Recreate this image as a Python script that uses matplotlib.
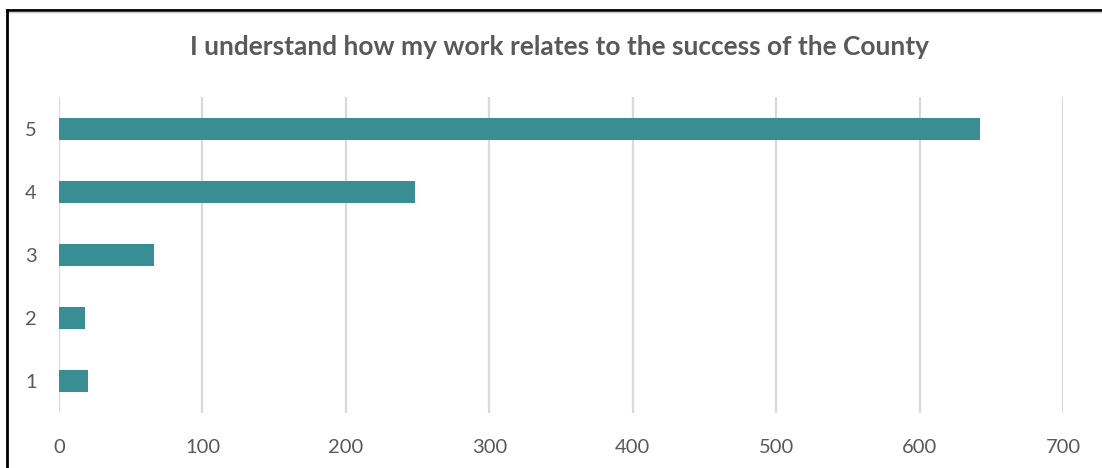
import matplotlib
matplotlib.use("Agg")
import matplotlib.pyplot as plt
from matplotlib.lines import Line2D

categories = ["1", "2", "3", "4", "5"]
counts = [20, 18, 66, 248, 642]
xticks = [0, 100, 200, 300, 400, 500, 600, 700]

title = "I understand how my work relates to the success of the County"
bar_color = "#388E93"
text_color = "#595959"
grid_color = "#D9D9D9"

plt.rcParams["font.family"] = ["Lato", "DejaVu Sans"]

fig = plt.figure(figsize=(11.02, 4.68), dpi=100)
ax = fig.add_axes([59 / 1102, 1 - 413 / 468, (1063.3 - 59) / 1102, (413 - 97) / 468])

ax.barh(categories, counts, height=0.35, color=bar_color, zorder=3)
ax.set_xlim(0, 700)
ax.set_ylim(-0.5, 4.5)
ax.set_xticks(xticks)
ax.xaxis.grid(True, color=grid_color, linewidth=1.6, zorder=0)
for s in ax.spines.values():
    s.set_visible(False)
ax.tick_params(axis="both", length=0, labelsize=14.5, labelcolor=text_color)
ax.tick_params(axis="x", pad=19)
ax.tick_params(axis="y", pad=16)

fig.text(559 / 1102, 1 - 47 / 468, title, ha="center", va="center",
         fontsize=18.9, fontweight="bold", color=text_color)

# outer frame: top and left edges
fig.add_artist(Line2D([7 / 1102, 1], [1 - 10 / 468] * 2, color="black", lw=2))
fig.add_artist(Line2D([7 / 1102, 1], [1 - 11.5 / 468] * 2, color="#C8C8C8", lw=1))
fig.add_artist(Line2D([7 / 1102] * 2, [0, 1 - 10 / 468], color="black", lw=2))

fig.savefig("out.png", dpi=100)
